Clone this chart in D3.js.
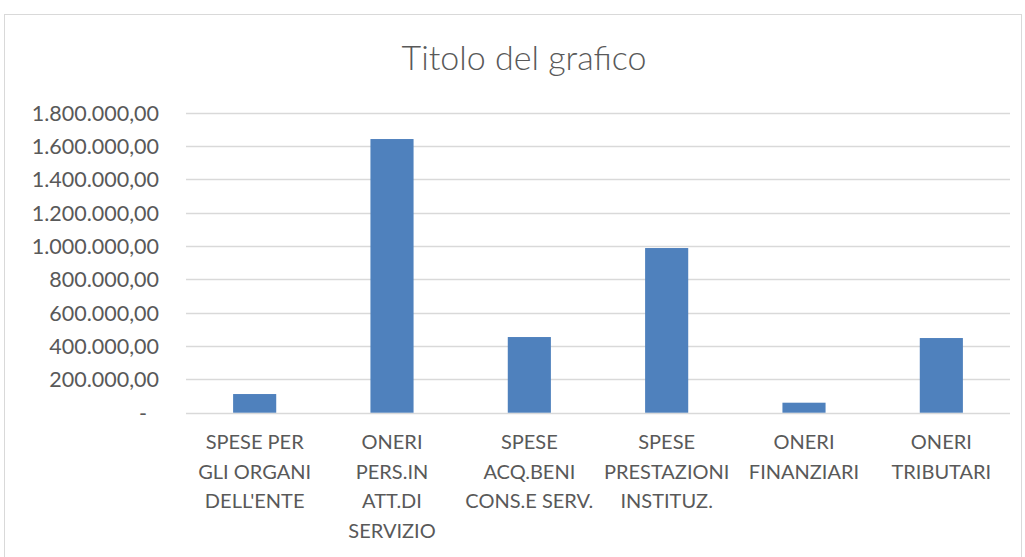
<!DOCTYPE html>
<html>
<head>
<meta charset="utf-8">
<script src="https://cdn.jsdelivr.net/npm/d3@7"></script>
<style>
  html, body { margin: 0; padding: 0; background: #fff; }
  svg { display: block; font-family: Lato, sans-serif; }
</style>
</head>
<body>
<svg id="chart" width="1025" height="557"></svg>
<script>
// Data
const categories = ['SPESE PER GLI ORGANI DELL\'ENTE', 'ONERI PERS.IN ATT.DI SERVIZIO', 'SPESE ACQ.BENI CONS.E SERV.',
    'SPESE PRESTAZIONI INSTITUZ.', 'ONERI FINANZIARI', 'ONERI TRIBUTARI'];
const categoryLines = [
    ['SPESE PER', 'GLI ORGANI', 'DELL\'ENTE'],
    ['ONERI', 'PERS.IN', 'ATT.DI', 'SERVIZIO'],
    ['SPESE', 'ACQ.BENI', 'CONS.E SERV.'],
    ['SPESE', 'PRESTAZIONI', 'INSTITUZ.'],
    ['ONERI', 'FINANZIARI'],
    ['ONERI', 'TRIBUTARI']
];
const values = [112000, 1642000, 454000, 988000, 60000, 448000];
const yTicks = [0, 200000, 400000, 600000, 800000, 1000000, 1200000, 1400000, 1600000, 1800000];

const itFormat = d3.formatLocale({decimal: ',', thousands: '.', grouping: [3], currency: ['€', '']});
const fmt = itFormat.format(',.2f');

// Layout
const svg = d3.select('#chart');
const margin = {top: 113, right: 15, bottom: 144, left: 186};
const iw = 1010 - margin.left;
const y0 = 412.7;

// chart area border
svg.append('rect')
    .attr('x', 4.5).attr('y', 14.5)
    .attr('width', 1017).attr('height', 560)
    .attr('fill', '#fff').attr('stroke', '#d9d9d9');

svg.append('text')
    .attr('x', 524).attr('y', 70)
    .attr('text-anchor', 'middle')
    .attr('fill', '#595959')
    .style('font-size', '34px')
    .style('font-weight', 300)
    .text('Titolo del grafico');

const x = d3.scaleBand().domain(categories).range([margin.left, margin.left + iw]).paddingInner(0.686).paddingOuter(0.343);
const y = d3.scaleLinear().domain([0, 1800000]).range([y0, 112.7]);

// grid
svg.append('g')
    .selectAll('line').data(yTicks).join('line')
    .attr('x1', margin.left).attr('x2', margin.left + iw)
    .attr('y1', d => Math.round(y(d)) + 0.5).attr('y2', d => Math.round(y(d)) + 0.5)
    .attr('stroke', '#d9d9d9').attr('stroke-width', 1.3);

// y axis labels
const yAxis = svg.append('g').attr('transform', `translate(159,0)`)
    .call(d3.axisLeft(y).tickValues(yTicks).tickSize(0).tickPadding(0)
        .tickFormat(d => fmt(d)));
yAxis.select('.domain').remove();
yAxis.selectAll('text')
    .attr('fill', '#595959')
    .style('font-size', '21.5px')
    .style('font-family', 'Lato, sans-serif')
    .attr('dy', '0.35em');
// Excel shows zero as a dash
yAxis.selectAll('.tick').filter(d => d === 0).select('text')
    .text('-').attr('x', -12);

// bars
svg.append('g')
    .selectAll('rect').data(values).join('rect')
    .attr('x', (d, i) => x(categories[i]))
    .attr('width', x.bandwidth())
    .attr('y', d => y(d))
    .attr('height', d => y(0) - y(d))
    .attr('fill', '#4f81bd');

// category labels
const lab = svg.append('g').selectAll('text').data(categoryLines).join('text')
    .attr('text-anchor', 'middle')
    .attr('fill', '#595959')
    .style('font-size', '20px')
    .attr('transform', (d, i) => `translate(${x(categories[i]) + x.bandwidth() / 2},449)`);
lab.selectAll('tspan').data(d => d).join('tspan')
    .attr('x', 0)
    .attr('y', (d, j) => j * 29.5)
    .text(d => d);
</script>
</body>
</html>
